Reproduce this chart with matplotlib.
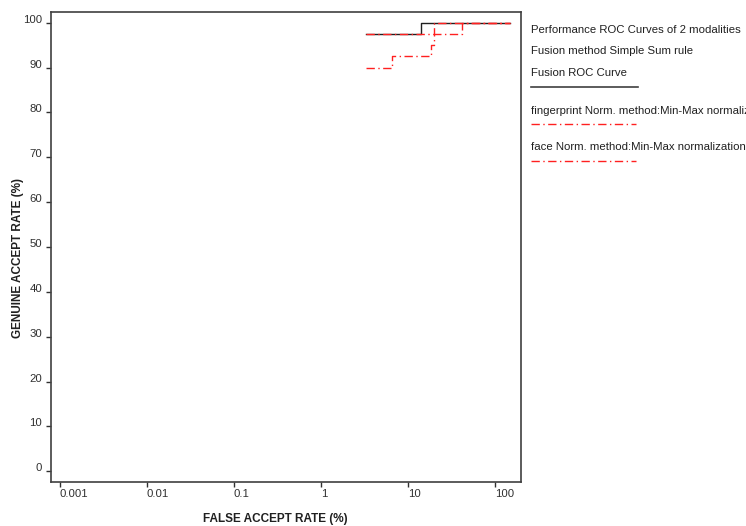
import matplotlib
matplotlib.use('Agg')
import matplotlib.pyplot as plt
from matplotlib.lines import Line2D

# ROC curves (FAR in %, GAR in %)
fusion_far = [3.3, 14.2, 150]
fusion_gar = [97.5, 100, 100]
finger_far = [3.3, 42, 150]
finger_gar = [97.5, 100, 100]
face_far = [3.3, 6.6, 18.3, 20.0, 150]
face_gar = [90, 92.5, 95, 100, 100]

xticks = [0.001, 0.01, 0.1, 1, 10, 100]
xtick_labels = ['0.001', '0.01', '0.1', '1', '10', '100']
yticks = list(range(0, 101, 10))

legend_lines = [
    'Performance ROC Curves of 2 modalities',
    'Fusion method Simple Sum rule',
    'Fusion ROC Curve',
    'fingerprint Norm. method:Min-Max normalization',
    'face Norm. method:Min-Max normalization',
]

plt.rcParams['font.family'] = ['Liberation Sans', 'DejaVu Sans']
W, H = 746, 526
fig = plt.figure(figsize=(W / 100, H / 100), dpi=100)
ax = fig.add_axes([51 / W, (H - 482) / H, 470 / W, 470 / H])

red = '#ff2020'
dash = (6, 2.5, 1, 2.5)
ax.step(fusion_far, fusion_gar, where='post', color='#202020', lw=1.0)
l1, = ax.step(finger_far, finger_gar, where='post', color=red, lw=1.0)
l2, = ax.step(face_far, face_gar, where='post', color=red, lw=1.0)
l1.set_dashes(dash)
l2.set_dashes(dash)

ax.set_xscale('log')
ax.set_xlim(7.9e-4, 200)
ax.set_ylim(-2.4, 102.4)
ax.set_xticks(xticks)
ax.set_xticklabels(xtick_labels)
ax.minorticks_off()
ax.set_yticks(yticks)
ax.tick_params(length=3.5, width=1, colors='#303030', labelsize=8.2)
ax.tick_params(axis='x', pad=1.5)
ax.tick_params(axis='y', pad=3)
for lab in ax.get_xticklabels():
    lab.set_ha('left')
for lab in ax.get_yticklabels():
    lab.set_va('baseline')
for s in ax.spines.values():
    s.set_color('#404040')
    s.set_linewidth(1.2)

narrow = ['Liberation Sans Narrow', 'Liberation Sans', 'DejaVu Sans']
fig.text(275 / W, 1 - 519 / H, 'FALSE ACCEPT RATE (%)', ha='center', va='center',
         fontsize=8.5, fontweight='bold', family=narrow, color='#202020')
fig.text(18 / W, 1 - 258 / H, 'GENUINE ACCEPT RATE (%)', ha='center', va='center',
         rotation=90, fontsize=8.5, fontweight='bold', family=narrow, color='#202020')

# legend block on the right
tx = 531 / W
text_y = [30, 51, 72.5, 110.5, 147]
for t, y in zip(legend_lines, text_y):
    fig.text(tx, 1 - y / H, t, ha='left', va='center', fontsize=8.2, color='#202020')
fig.add_artist(Line2D([531 / W, 638 / W], [1 - 86.5 / H] * 2, color='#404040', lw=1.2))
for y in [124, 160.5]:
    ln = Line2D([531 / W, 636 / W], [1 - y / H] * 2, color=red, lw=1.0)
    ln.set_dashes(dash)
    fig.add_artist(ln)

fig.savefig('out.png', dpi=100)
